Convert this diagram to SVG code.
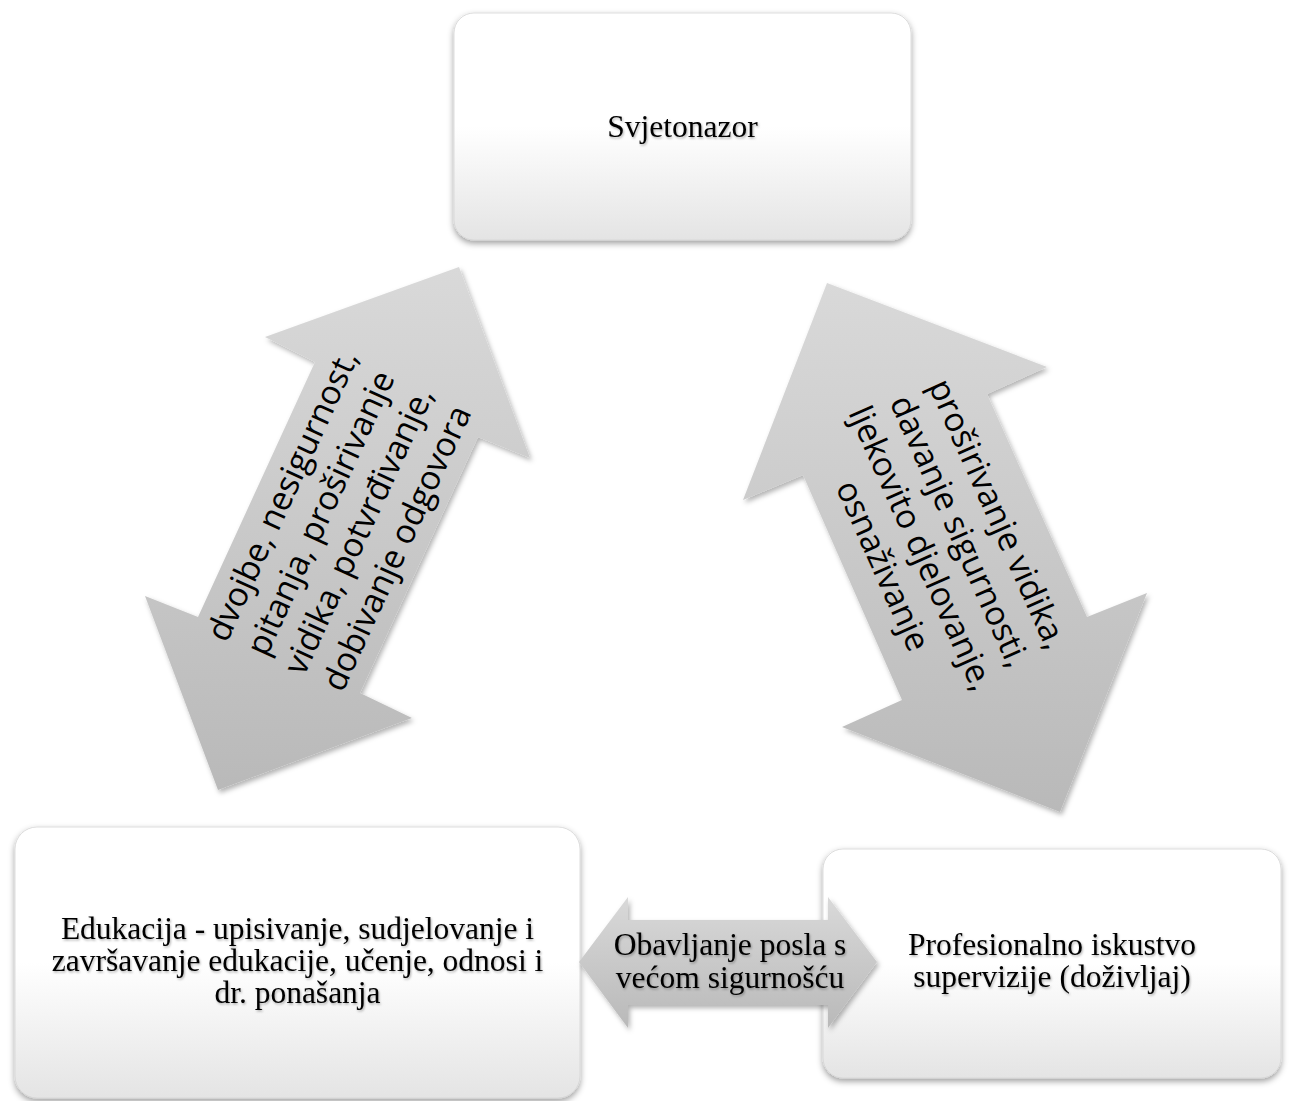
<svg xmlns="http://www.w3.org/2000/svg" width="1292" height="1101" viewBox="0 0 1292 1101">
  <defs>
    <linearGradient id="boxGrad" x1="0" y1="0" x2="0" y2="1">
      <stop offset="0" stop-color="#ffffff"/>
      <stop offset="0.5" stop-color="#ffffff"/>
      <stop offset="1" stop-color="#e4e4e4"/>
    </linearGradient>
    <linearGradient id="arrowGrad" x1="0" y1="0" x2="0" y2="1">
      <stop offset="0" stop-color="#d9d9d9"/>
      <stop offset="1" stop-color="#b9b9b9"/>
    </linearGradient>
    <filter id="boxShadow" x="-10%" y="-10%" width="120%" height="125%">
      <feDropShadow dx="0" dy="3" stdDeviation="3" flood-color="#000" flood-opacity="0.38"/>
    </filter>
    <filter id="arrowShadow" x="-10%" y="-10%" width="125%" height="125%">
      <feDropShadow dx="2" dy="3" stdDeviation="2.5" flood-color="#000" flood-opacity="0.3"/>
    </filter>
    <filter id="textShadow" x="-5%" y="-20%" width="110%" height="150%">
      <feDropShadow dx="1" dy="1.5" stdDeviation="1" flood-color="#000" flood-opacity="0.3"/>
    </filter>
  </defs>
  <style>
    .box { fill: url(#boxGrad); stroke: #d4d4d4; stroke-width: 0.8; filter: url(#boxShadow); }
    .arrow { fill: url(#arrowGrad); stroke: none; filter: url(#arrowShadow); }
    .serif { font-family: "Liberation Serif", "Times New Roman", serif; font-size: 31.5px; fill: #000; text-anchor: middle; filter: url(#textShadow); }
    .sans { font-family: "Open Sans", "Liberation Sans", sans-serif; font-size: 33.5px; fill: #000; text-anchor: middle; }
  </style>
  <rect width="1292" height="1101" fill="#ffffff"/>

  <g id="node-svjetonazor">
    <rect class="box" x="454" y="13" width="457" height="227" rx="20" ry="20"/>
    <text class="serif" x="682.5" y="137">Svjetonazor</text>
  </g>

  <g id="node-edukacija">
    <rect class="box" x="15" y="827" width="565" height="271" rx="22" ry="22"/>
    <text class="serif" x="297.5" y="939">Edukacija - upisivanje, sudjelovanje i</text>
    <text class="serif" x="297.5" y="971">završavanje edukacije, učenje, odnosi i</text>
    <text class="serif" x="297.5" y="1003">dr. ponašanja</text>
  </g>

  <g id="node-iskustvo">
    <rect class="box" x="823" y="849" width="458" height="229" rx="20" ry="20"/>
    <text class="serif" x="1052" y="955">Profesionalno iskustvo</text>
    <text class="serif" x="1052" y="987">supervizije (doživljaj)</text>
  </g>

  <g id="connectors">
    <g id="conn-left">
      <polygon class="arrow" points="459,267 530,458 478,437 360,693 412,718 218,790 145,596 198,617 315,362 265,337"/>
      <g transform="translate(340,522) rotate(-65.3)">
        <text class="sans" x="0" y="-52">dvojbe, nesigurnost,</text>
        <text class="sans" x="0" y="-10">pitanja, proširivanje</text>
        <text class="sans" x="0" y="32">vidika, potvrđivanje,</text>
        <text class="sans" x="0" y="74">dobivanje odgovora</text>
      </g>
    </g>
    <g id="conn-right">
      <polygon class="arrow" points="827,283 1047,367 987,394 1087,617 1147,593 1060,812 842,727 902,700 803,475 743,500"/>
      <g transform="translate(940,540) rotate(65.9)">
        <text class="sans" x="0" y="-52">proširivanje vidika,</text>
        <text class="sans" x="0" y="-10">davanje sigurnosti,</text>
        <text class="sans" x="0" y="32">ljekovito djelovanje,</text>
        <text class="sans" x="0" y="74">osnaživanje</text>
      </g>
    </g>
    <g id="conn-bottom">
      <polygon class="arrow" points="579,962 628,897 628,920 828,920 828,897 877,962 828,1028 828,1005 628,1005 628,1028"/>
      <text class="serif" x="730" y="955">Obavljanje posla s</text>
      <text class="serif" x="730" y="988">većom sigurnošću</text>
    </g>
  </g>
</svg>
